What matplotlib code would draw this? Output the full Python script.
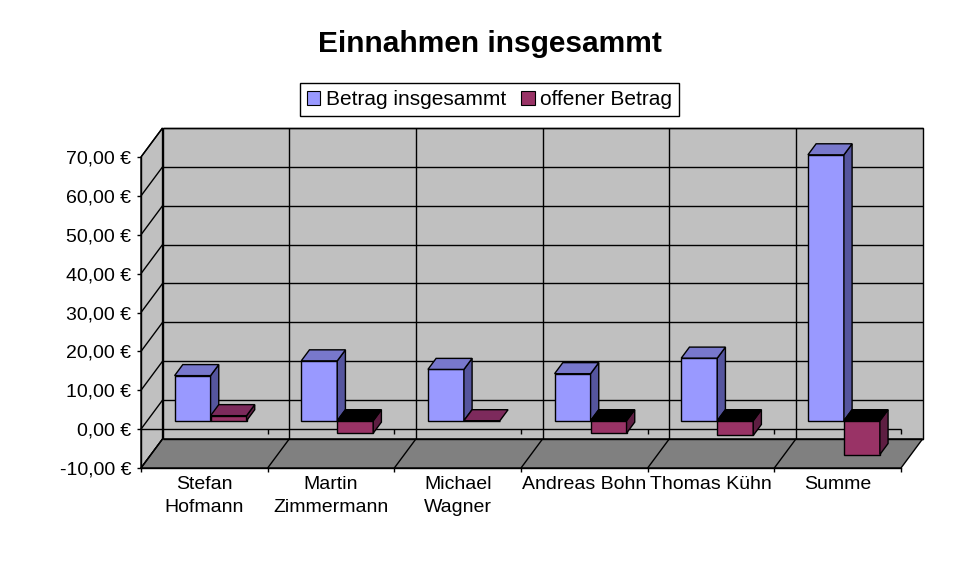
import matplotlib
matplotlib.use('Agg')
import matplotlib.pyplot as plt
from matplotlib.patches import Polygon, Patch

plt.rcParams['font.family'] = ['Liberation Sans', 'DejaVu Sans']

# Daten
categories = ['Stefan\nHofmann', 'Martin\nZimmermann', 'Michael\nWagner',
              'Andreas Bohn', 'Thomas Kühn', 'Summe']
betrag_insgesamt = [11.6, 15.4, 13.2, 12.1, 16.1, 68.4]
offener_betrag = [1.3, -3.2, 0.0, -3.2, -3.8, -8.7]
series_names = ['Betrag insgesammt', 'offener Betrag']
y_ticks = [-10, 0, 10, 20, 30, 40, 50, 60, 70]

# Farben (Excel-Stil)
front_colors = ['#9999FF', '#993366']
top_colors = ['#7878CC', '#7D2A5C']
side_colors = ['#55559E', '#5E1E42']

# Pseudo-3D: Tiefenversatz in Datenkoordinaten
DX = 0.17     # Kategorien-Einheiten
DY = 7.46     # Wert-Einheiten
Z0, Z1 = 0.29, 0.67   # Tiefe der Säulen (Anteil)
W = 0.284             # Säulenbreite
YMIN, YMAX = -10, 70
n = len(categories)


def P(x, y, z):
    return (x + z * DX, y + z * DY)


fig = plt.figure(figsize=(9.8, 5.77), dpi=100)
ax = fig.add_axes([141 / 980, (577 - 468) / 577, 760 / 980, 311 / 577])
ax.set_xlim(0, n)
ax.set_ylim(YMIN, YMAX)
ax.set_facecolor('none')


def poly(points, color, z, lw=1.0):
    ax.add_patch(Polygon(points, closed=True, facecolor=color, edgecolor='black',
                         linewidth=lw, zorder=z, clip_on=False))


def line(p1, p2, z=2):
    ax.plot([p1[0], p2[0]], [p1[1], p2[1]], color='black', linewidth=1.0,
            zorder=z, clip_on=False, solid_capstyle='butt')


# Wände und Boden
poly([P(0, YMIN, 1), P(n, YMIN, 1), P(n, YMAX, 1), P(0, YMAX, 1)], '#C0C0C0', 1)
poly([P(0, YMIN, 0), P(0, YMIN, 1), P(0, YMAX, 1), P(0, YMAX, 0)], '#C0C0C0', 1)
poly([P(0, YMIN, 0), P(n, YMIN, 0), P(n, YMIN, 1), P(0, YMIN, 1)], '#808080', 1)

# Gitternetz
for v in y_ticks:
    line(P(0, v, 1), P(n, v, 1))
    line(P(0, v, 0), P(0, v, 1))
for k in range(1, n):
    line(P(k, YMIN, 1), P(k, YMAX, 1))
    line(P(k, YMIN, 0), P(k, YMIN, 1))

# Rubrikenachse bei 0
line((0, 0), (n, 0), z=2.5)
for k in range(1, n + 1):
    line((k, 0), (k, -1.3), z=2.5)

# Säulen
zo = 3
for k in range(n):
    for i, values in enumerate([betrag_insgesamt, offener_betrag]):
        v = values[k]
        x0 = k + 0.5 - W + i * W
        x1 = x0 + W
        lo, hi = min(0, v), max(0, v)
        # Vorderseite
        poly([P(x0, lo, Z0), P(x1, lo, Z0), P(x1, hi, Z0), P(x0, hi, Z0)],
             front_colors[i], zo)
        # Seitenfläche
        if hi > lo:
            poly([P(x1, lo, Z0), P(x1, lo, Z1), P(x1, hi, Z1), P(x1, hi, Z0)],
                 side_colors[i], zo)
        # Deckfläche
        top = top_colors[i] if v >= 0 else 'black'
        poly([P(x0, hi, Z0), P(x1, hi, Z0), P(x1, hi, Z1), P(x0, hi, Z1)], top, zo)
        zo += 0.1

# Achsen
for s in ['top', 'right']:
    ax.spines[s].set_visible(False)
ax.spines['left'].set_linewidth(1.0)
ax.spines['bottom'].set_linewidth(1.0)
ax.spines['left'].set_zorder(2.6)
ax.spines['bottom'].set_zorder(2.6)

ax.set_yticks(y_ticks)
ax.set_yticklabels([f'{v:.2f} €'.replace('.', ',') for v in y_ticks], fontsize=14)
ax.tick_params(axis='y', direction='out', length=3, width=1.0, pad=4)

ax.set_xticks([k + 0.5 for k in range(n)])
ax.set_xticklabels(categories, fontsize=14, linespacing=1.4)
ax.set_xticks(range(n + 1), minor=True)
ax.tick_params(axis='x', which='major', length=0, pad=6)
ax.tick_params(axis='x', which='minor', direction='out', length=3, width=1.0)

# Titel und Legende
fig.text(490 / 980, 1 - 44 / 577, 'Einnahmen insgesammt', ha='center', va='center',
         fontsize=21.5, fontweight='bold')

handles = [Patch(facecolor=c, edgecolor='black', linewidth=0.8) for c in front_colors]
leg = fig.legend(handles, series_names, loc='center', ncol=2,
                 bbox_to_anchor=(489.5 / 980, 1 - 99.5 / 577), fontsize=15,
                 frameon=True, fancybox=False, edgecolor='black', framealpha=1,
                 handlelength=0.65, handleheight=0.65, handletextpad=0.25,
                 columnspacing=0.75, borderpad=0.35, borderaxespad=0)
leg.get_frame().set_linewidth(1.0)

fig.savefig('out.png', dpi=100)
